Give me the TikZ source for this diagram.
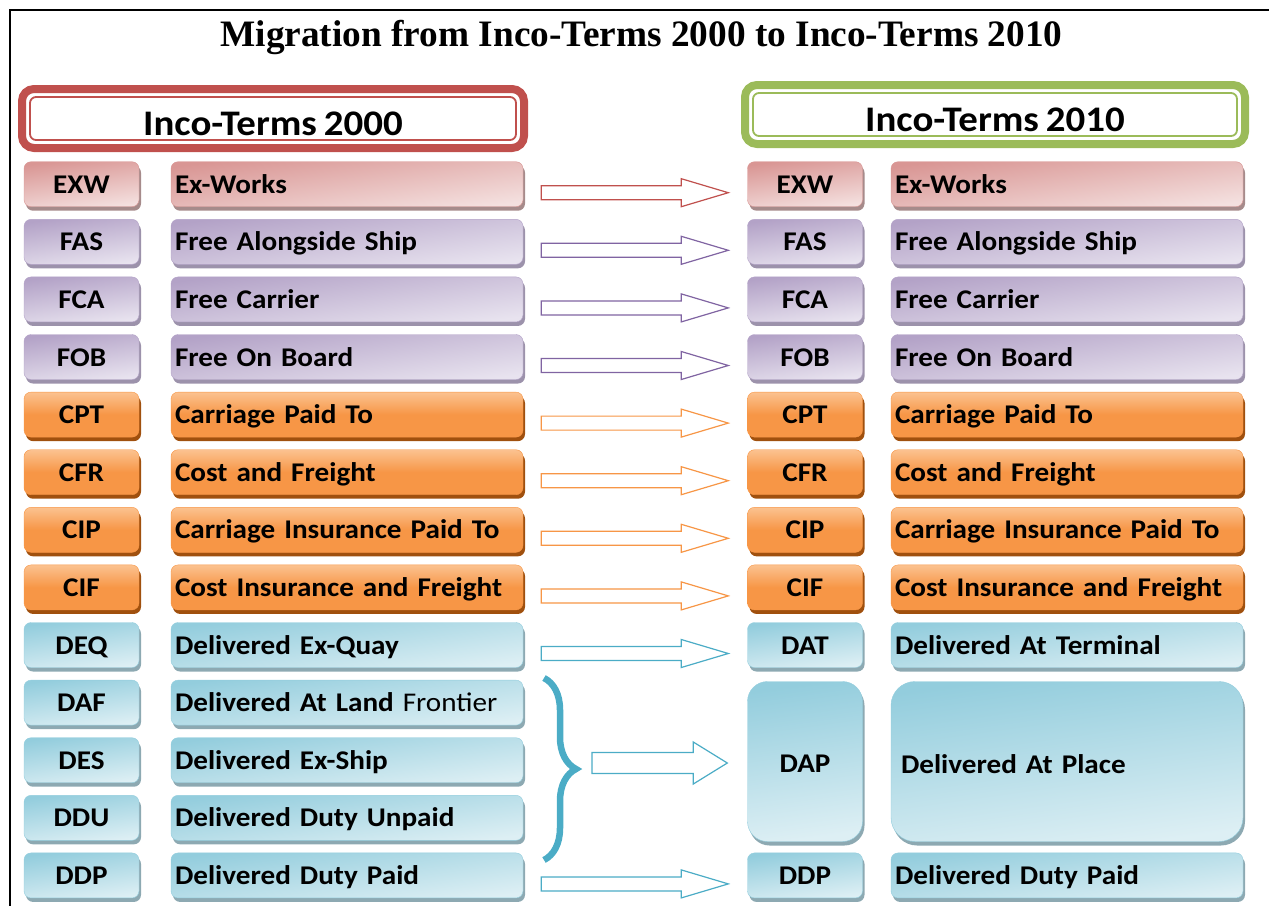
\documentclass[tikz,border=0pt]{standalone}
\usepackage{fontspec}
\newfontfamily\calibri[FakeStretch=1.08, WordSpace=0.8]{Carlito}
\newfontfamily\timesfont{Liberation Serif}
\usetikzlibrary{calc, shadows, decorations.pathreplacing}

% theme colours
\definecolor{pkdark}{HTML}{D99694}
\definecolor{pklight}{HTML}{F4E0DF}
\definecolor{pkshade}{HTML}{A68B8B}
\definecolor{pkline}{HTML}{C0504D}
\definecolor{pudark}{HTML}{B3A2C7}
\definecolor{pulight}{HTML}{E8E3EF}
\definecolor{pushade}{HTML}{9C92AB}
\definecolor{puline}{HTML}{8064A2}
\definecolor{ordark}{HTML}{F79646}
\definecolor{orlight}{HTML}{FBC290}
\definecolor{orshade}{HTML}{A0500E}
\definecolor{orline}{HTML}{F79646}
\definecolor{bldark}{HTML}{93CDDD}
\definecolor{bllight}{HTML}{DDEFF4}
\definecolor{blshade}{HTML}{8DA9B2}
\definecolor{blline}{HTML}{4BACC6}
\definecolor{hdrred}{HTML}{C0504D}
\definecolor{hdrgreen}{HTML}{9BBB59}

\tikzset{
  term/.style={rounded corners=7pt, minimum height=45pt, inner sep=0pt,
    font=\calibri\bfseries\fontsize{27}{32}\selectfont,
    text height=18pt, text depth=0pt},
  codebox/.style={term, minimum width=115pt},
  descbox/.style={term, text width=344pt, align=left, inner xsep=4pt, minimum width=352pt},
  pkterm/.style={draw=pkdark, top color=pkdark, bottom color=pklight, shading angle=8,
    drop shadow={fill=pkshade, opacity=1, shadow xshift=2pt, shadow yshift=-4pt}},
  puterm/.style={draw=pudark, top color=pudark, bottom color=pulight, shading angle=8,
    drop shadow={fill=pushade, opacity=1, shadow xshift=2pt, shadow yshift=-4pt}},
  orterm/.style={draw=ordark, top color=orlight, bottom color=ordark, middle color=ordark,
    drop shadow={fill=orshade, opacity=1, shadow xshift=2pt, shadow yshift=-4pt}},
  blterm/.style={draw=bldark, top color=bldark, bottom color=bllight, shading angle=8,
    drop shadow={fill=blshade, opacity=1, shadow xshift=2pt, shadow yshift=-4pt}},
  hdrbox/.style={draw=#1, line width=8pt, rounded corners=12pt, fill=white,
    minimum height=59pt, inner sep=0pt,
    font=\calibri\bfseries\fontsize{36}{42}\selectfont, text height=33pt, text depth=0pt},
  migline/.style={draw=#1, fill=white, line width=1.2pt, line join=miter}
}

% hollow block arrow: tail, tip, colour, half shaft, half head, head length
\newcommand{\migarrow}[6]{%
  \draw[migline=#3] ($#1+(0,-#4)$) -- ($#2+(-#6,-#4)$) -- ($#2+(-#6,-#5)$)
    -- #2 -- ($#2+(-#6,#5)$) -- ($#2+(-#6,#4)$) -- ($#1+(0,#4)$) -- cycle;}

\begin{document}
\begin{tikzpicture}[x=1pt, y=-1pt]

    \useasboundingbox (0,0) rectangle (1269,905);

    % Frame
    \draw[line width=2.5pt] (10,910) -- (10,10) -- (1275,10);

    % Title
    \node[anchor=base, font=\timesfont\bfseries\fontsize{37.3}{44}\selectfont] (title)
        at (641.5,46) {Migration from Inco-Terms 2000 to Inco-Terms 2010};

    % Headers
    \node[hdrbox=hdrred, minimum width=502pt] (hold) at (273,118.5) {Inco-Terms 2000};
    \draw[hdrred, line width=1.8pt, rounded corners=6pt]
        ($(hold.north west)+(12,12)$) rectangle ($(hold.south east)+(-12,-12)$);
    \node[hdrbox=hdrgreen, minimum width=500pt] (hnew) at (995,114.5) {Inco-Terms 2010};
    \draw[hdrgreen, line width=1.8pt, rounded corners=6pt]
        ($(hnew.north west)+(12,12)$) rectangle ($(hnew.south east)+(-12,-12)$);

    % Old terms
    \foreach \cd/\ds/\sty [count=\i from 0] in {
        EXW/Ex-Works/pkterm,
        FAS/Free Alongside Ship/puterm,
        FCA/Free Carrier/puterm,
        FOB/Free On Board/puterm,
        CPT/Carriage Paid To/orterm,
        CFR/Cost and Freight/orterm,
        CIP/Carriage Insurance Paid To/orterm,
        CIF/Cost Insurance and Freight/orterm,
        DEQ/Delivered Ex-Quay/blterm,
        DAF/Delivered At Land {\mdseries Frontier}/blterm,
        DES/Delivered Ex-Ship/blterm,
        DDU/Delivered Duty Unpaid/blterm,
        DDP/Delivered Duty Paid/blterm}{
        \node[codebox, \sty] (oc\i) at (81.5,{184.2+57.6*\i}) {\cd};
        \node[descbox, \sty] (od\i) at (347,{184.2+57.6*\i}) {\ds};
    }

    % New terms
    \foreach \r/\cd/\ds/\sty in {
        0/EXW/Ex-Works/pkterm,
        1/FAS/Free Alongside Ship/puterm,
        2/FCA/Free Carrier/puterm,
        3/FOB/Free On Board/puterm,
        4/CPT/Carriage Paid To/orterm,
        5/CFR/Cost and Freight/orterm,
        6/CIP/Carriage Insurance Paid To/orterm,
        7/CIF/Cost Insurance and Freight/orterm,
        8/DAT/Delivered At Terminal/blterm,
        12/DDP/Delivered Duty Paid/blterm}{
        \node[codebox, \sty] (nc\r) at (805,{184.2+57.6*\r}) {\cd};
        \node[descbox, \sty] (nd\r) at (1067,{184.2+57.6*\r}) {\ds};
    }
    \node[codebox, blterm, minimum height=160pt, rounded corners=20pt,
        text height=21pt] (nc9) at (805,761.5) {DAP};
    \node[descbox, blterm, minimum height=160pt, rounded corners=24pt,
        text width=332pt, inner xsep=10pt, text height=24pt] (nd9) at (1067,761.5) {Delivered At Place};

    % One-to-one arrows
    \foreach \r/\ln in {0/pkline, 1/puline, 2/puline, 3/puline, 4/orline, 5/orline,
                        6/orline, 7/orline, 8/blline, 12/blline}{
        \coordinate (t\r) at ($(od\r.east)+(18,8.5)$);
        \coordinate (h\r) at ($(nc\r.west)+(-19,8.5)$);
        \migarrow{(t\r)}{(h\r)}{\ln}{7}{14}{47}
    }

    % Brace grouping DAF, DES, DDU
    \coordinate (bracetop) at (544,678);
    \coordinate (bracebot) at (544,860);
    \coordinate (bracetip) at (577,769);
    \draw[blline, line width=6.5pt, decorate, decoration={brace, amplitude=32pt}]
        (bracetop) -- (bracebot);
    \coordinate (tdap) at ($(bracetip)+(15,-6)$);
    \coordinate (hdap) at ($(nc9.west)+(-20,1.5)$);
    \migarrow{(tdap)}{(hdap)}{blline}{10.5}{21}{34}

\end{tikzpicture}
\end{document}
